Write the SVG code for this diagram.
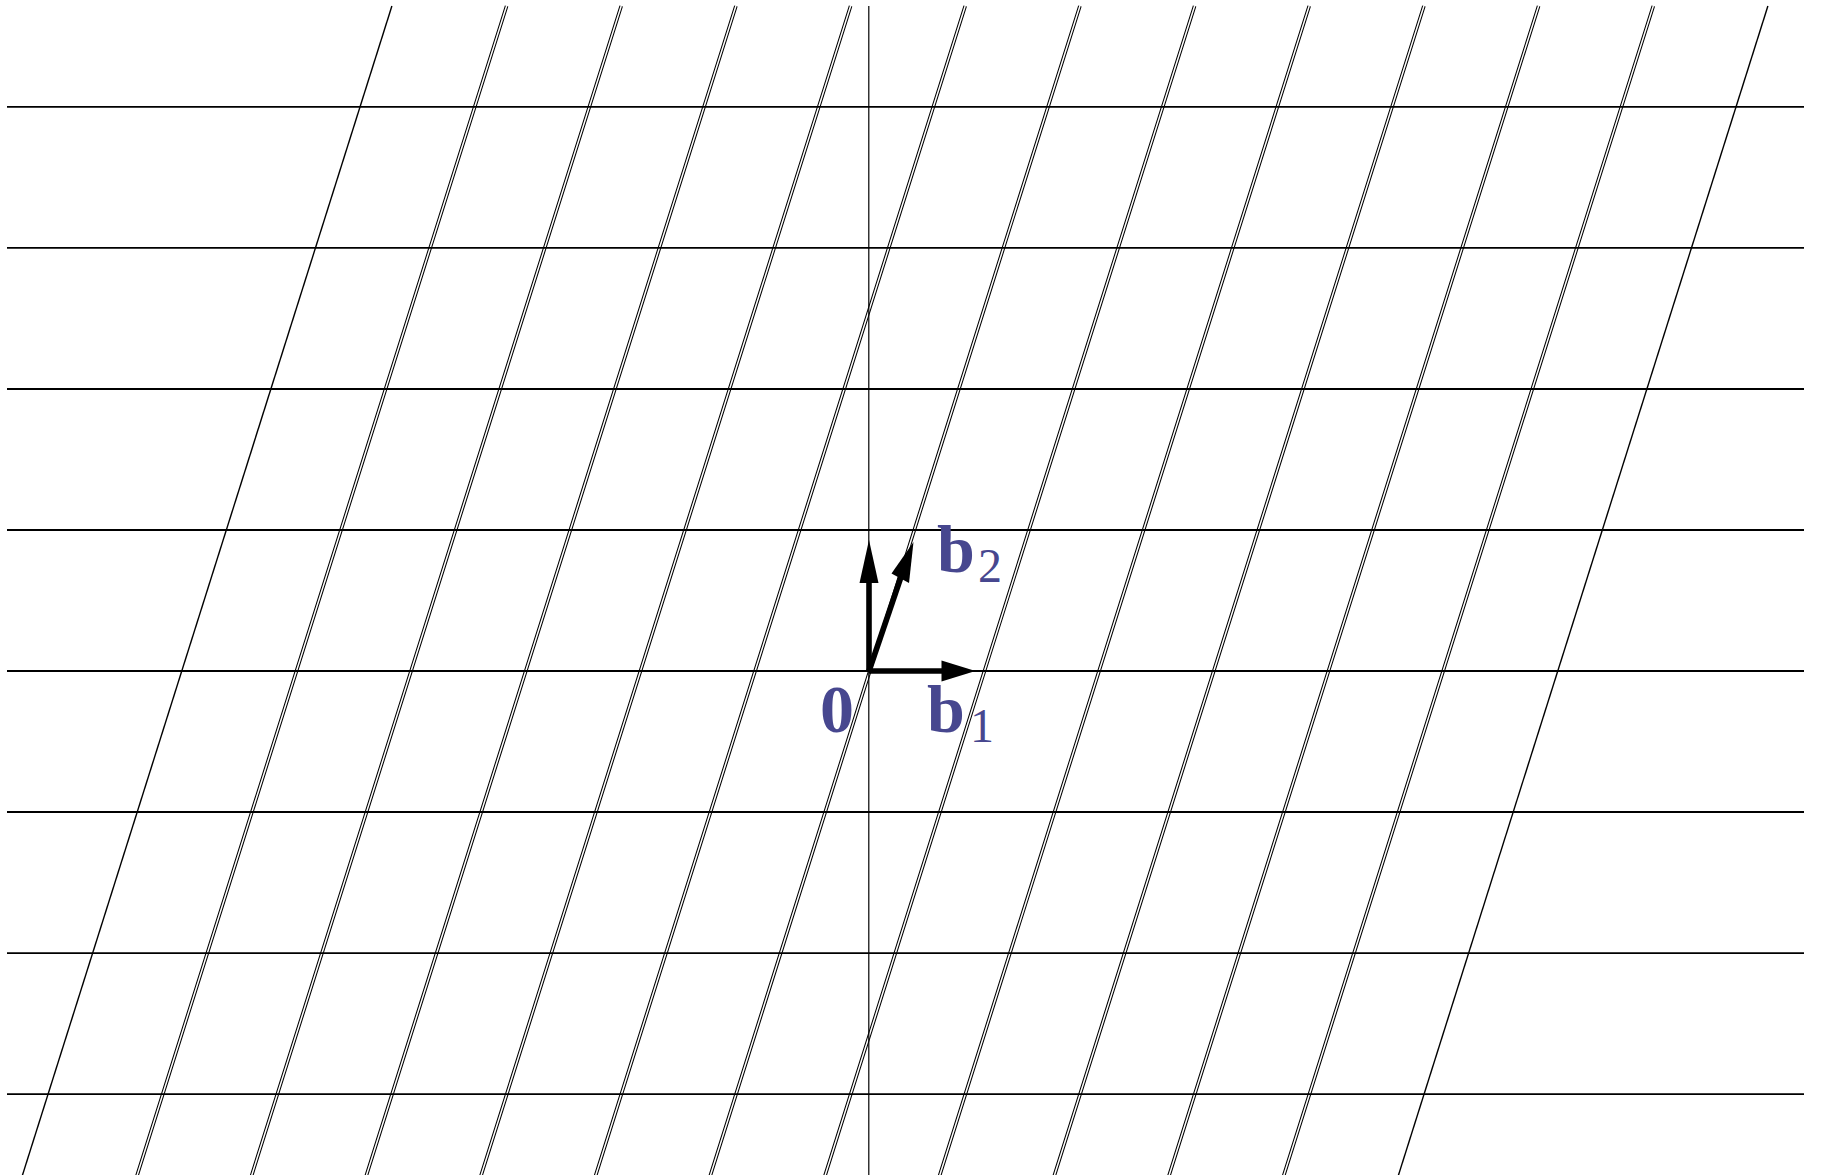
<svg xmlns="http://www.w3.org/2000/svg" width="1821" height="1175" viewBox="0 0 1821 1175">
<style>
.bg{fill:#ffffff}
.single{stroke:#000;stroke-width:1.4;fill:none}
.dblo{stroke:#000;stroke-width:3.6;fill:none}
.dbli{stroke:#fff;stroke-width:1.5;fill:none}
.hline{stroke:#000;stroke-width:1.8;fill:none}
.vline{stroke:#000;stroke-width:1.2;fill:none}
.shaft{stroke:#000;stroke-width:5.6;fill:none}
.head{fill:#000;stroke:none}
.lbl{font-family:"Liberation Serif","DejaVu Serif",serif;font-weight:bold;font-size:68px;fill:#47478f}
.sub{font-family:"Liberation Serif","DejaVu Serif",serif;font-weight:normal;font-size:48px;fill:#47478f}
</style>
<rect class="bg" x="0" y="0" width="1821" height="1175"/>
<g id="connectors">
  <g id="slanted-lines">
    <line class="single" x1="391.9" y1="6" x2="22.2" y2="1176"/>
    <g id="double-lines">
      <path id="dl" class="dblo" d="M506.6,6 L136.9,1176 M621.2,6 L251.5,1176 M735.9,6 L366.2,1176 M850.6,6 L480.9,1176 M965.2,6 L595.5,1176 M1079.9,6 L710.2,1176 M1194.6,6 L824.9,1176 M1309.2,6 L939.5,1176 M1423.9,6 L1054.2,1176 M1538.6,6 L1168.9,1176 M1653.3,6 L1283.6,1176"/>
      <path class="dbli" d="M506.6,6 L136.9,1176 M621.2,6 L251.5,1176 M735.9,6 L366.2,1176 M850.6,6 L480.9,1176 M965.2,6 L595.5,1176 M1079.9,6 L710.2,1176 M1194.6,6 L824.9,1176 M1309.2,6 L939.5,1176 M1423.9,6 L1054.2,1176 M1538.6,6 L1168.9,1176 M1653.3,6 L1283.6,1176"/>
    </g>
    <line class="single" x1="1767.9" y1="6" x2="1398.2" y2="1176"/>
  </g>
  <g id="horizontal-lines">
    <line class="hline" x1="7" y1="106.9" x2="1804" y2="106.9"/>
    <line class="hline" x1="7" y1="247.9" x2="1804" y2="247.9"/>
    <line class="hline" x1="7" y1="389" x2="1804" y2="389"/>
    <line class="hline" x1="7" y1="530" x2="1804" y2="530"/>
    <line class="hline" x1="7" y1="671" x2="1804" y2="671"/>
    <line class="hline" x1="7" y1="812" x2="1804" y2="812"/>
    <line class="hline" x1="7" y1="953.1" x2="1804" y2="953.1"/>
    <line class="hline" x1="7" y1="1094.2" x2="1804" y2="1094.2"/>
  </g>
  <line id="vertical-axis" class="vline" x1="868.8" y1="6" x2="868.8" y2="1176"/>
</g>
<g id="vector-e2">
  <line class="shaft" x1="869" y1="671" x2="869" y2="578"/>
  <polygon class="head" points="869,540 878.5,583 859.5,583"/>
</g>
<g id="vector-b2">
  <line class="shaft" x1="869" y1="671" x2="902" y2="574"/>
  <polygon class="head" points="913.5,542 909,583 891.5,573.5"/>
</g>
<g id="vector-b1">
  <line class="shaft" x1="869" y1="671" x2="947" y2="671"/>
  <polygon class="head" points="975.5,671 941.5,681.5 941.5,660.5"/>
</g>
<g id="label-0"><text class="lbl" x="820" y="732">0</text></g>
<g id="label-b1"><text class="lbl" x="927" y="732">b</text><text class="sub" x="982" y="742" text-anchor="middle">1</text></g>
<g id="label-b2"><text class="lbl" x="937" y="572">b</text><text class="sub" x="990" y="582" text-anchor="middle">2</text></g>
</svg>
